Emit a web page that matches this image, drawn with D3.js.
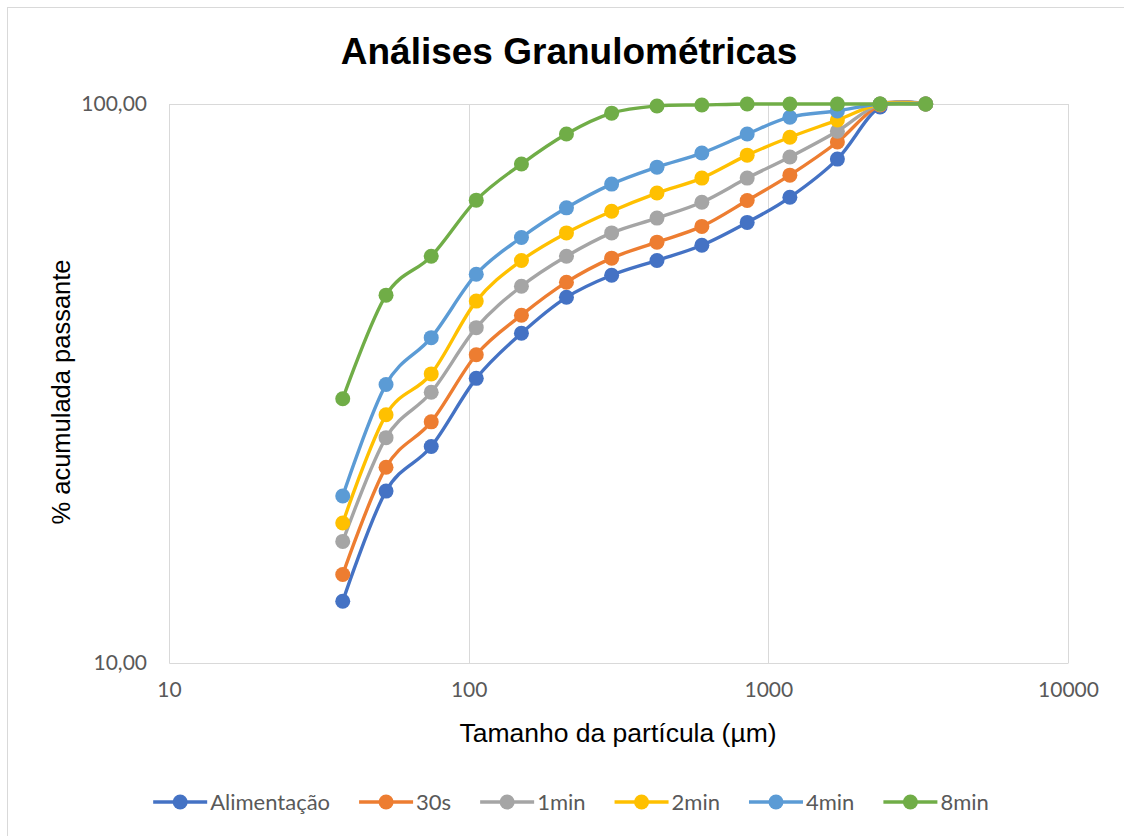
<!DOCTYPE html>
<html>
<head>
<meta charset="utf-8">
<script src="https://cdn.jsdelivr.net/npm/d3@7"></script>
<style>
  body { margin: 0; background: #fff; }
  .tick text { font-family: Lato, "Open Sans", sans-serif; font-size: 21px; fill: #595959; }
  .labels { font-family: "Liberation Sans", Arial, sans-serif; fill: #000; }
  .legend text { font-family: Lato, "Open Sans", sans-serif; font-size: 22px; fill: #595959; }
</style>
</head>
<body>
<div id="chart"></div>
<script>
// particle sizes (µm)
const sizes = [38, 53, 75, 106, 150, 212, 300, 425, 600, 850, 1180, 1700, 2360, 3350];

const seriesNames = ["Alimentação", "30s", "1min", "2min", "4min", "8min"];
const seriesColors = ["#4472C4", "#ED7D31", "#A5A5A5", "#FFC000", "#5B9BD5", "#70AD47"];

// % acumulada passante
const alimentacao = [12.9, 20.3, 24.4, 32.3, 38.9, 45.1, 49.4, 52.5, 55.9, 61.4, 68.1, 79.7, 98.8, 100];
const s30 = [14.4, 22.4, 27.0, 35.6, 41.9, 48.0, 53.0, 56.6, 60.4, 67.2, 74.6, 85.5, 99.6, 100];
const min1 = [16.5, 25.3, 30.5, 39.8, 47.2, 53.4, 58.8, 62.5, 66.7, 73.7, 80.4, 89.4, 100, 100];
const min2 = [17.8, 27.8, 32.9, 44.4, 52.5, 58.8, 64.3, 69.3, 73.7, 81.0, 87.2, 93.6, 100, 100];
const min4 = [19.9, 31.5, 38.2, 49.6, 57.7, 65.2, 71.9, 77.1, 81.7, 88.4, 94.7, 97.2, 100, 100];
const min8 = [29.7, 45.5, 53.4, 67.3, 78.1, 88.4, 96.3, 99.2, 99.6, 100, 100, 100, 100, 100];

const xTicks = [10, 100, 1000, 10000];
const yTicks = [10, 100];

function init() {
    const allSeries = [alimentacao, s30, min1, min2, min4, min8];
    const W = 1124, H = 836;
    const margin = {top: 104, right: 56, bottom: 173, left: 169};
    const width = W - margin.left - margin.right;
    const height = H - margin.top - margin.bottom;

    const root = d3.select('#chart').append('svg')
        .attr('width', W)
        .attr('height', H);

    // chart frame
    root.append('rect')
        .attr('x', 7.5).attr('y', 7.5)
        .attr('width', W).attr('height', H)
        .attr('fill', 'none')
        .attr('stroke', '#d9d9d9');

    const svg = root.append('g')
        .attr('transform', `translate(${margin.left},${margin.top})`);

    const xScale = d3.scaleLog().domain([10, 10000]).range([0, width]);
    const yScale = d3.scaleLog().domain([10, 100]).range([height, 0]);

    // gridlines
    svg.selectAll('.vgrid')
        .data(xTicks.slice(1))
        .join('line')
        .attr('x1', d => Math.round(xScale(d)) + 0.5)
        .attr('x2', d => Math.round(xScale(d)) + 0.5)
        .attr('y1', 0).attr('y2', height)
        .attr('stroke', '#d9d9d9');
    svg.selectAll('.hgrid')
        .data(yTicks.slice(1))
        .join('line')
        .attr('x1', 0).attr('x2', width)
        .attr('y1', d => Math.round(yScale(d)) + 0.5)
        .attr('y2', d => Math.round(yScale(d)) + 0.5)
        .attr('stroke', '#d9d9d9');

    // axes
    const fmtY = d => d3.format('.2f')(d).replace('.', ',');
    const xAxis = d3.axisBottom(xScale).tickValues(xTicks).tickFormat(d3.format('d')).tickSize(0).tickPadding(22);
    const yAxis = d3.axisLeft(yScale).tickValues(yTicks).tickFormat(fmtY).tickSize(0).tickPadding(22);

    const gx = svg.append('g')
        .attr('transform', `translate(0, ${height})`)
        .call(xAxis);
    const gy = svg.append('g').call(yAxis);
    [gx, gy].forEach(g => g.select('.domain').attr('stroke', '#d9d9d9'));
    gx.selectAll('text').attr('dy', '0.55em');

    // lines and markers
    const line = d3.line()
        .x((d, i) => xScale(sizes[i]))
        .y(d => yScale(d))
        .curve(d3.curveCatmullRom.alpha(0));

    allSeries.forEach((vals, k) => {
        svg.append('path')
            .datum(vals)
            .attr('d', line)
            .attr('fill', 'none')
            .attr('stroke', seriesColors[k])
            .attr('stroke-width', 3.4);
        svg.selectAll('.pt' + k)
            .data(vals)
            .join('circle')
            .attr('cx', (d, i) => xScale(sizes[i]))
            .attr('cy', d => yScale(d))
            .attr('r', 7.5)
            .attr('fill', seriesColors[k]);
    });

    // titles
    root.append('text')
        .attr('x', 569).attr('y', 64)
        .attr('text-anchor', 'middle')
        .attr('class', 'labels')
        .style('font-size', '37px')
        .style('font-weight', 'bold')
        .text('Análises Granulométricas');

    root.append('text')
        .attr('x', 618).attr('y', 742)
        .attr('text-anchor', 'middle')
        .attr('class', 'labels')
        .style('font-size', '26.5px')
        .text('Tamanho da partícula (µm)');

    root.append('text')
        .attr('transform', 'rotate(-90)')
        .attr('x', -392).attr('y', 70)
        .attr('text-anchor', 'middle')
        .attr('class', 'labels')
        .style('font-size', '25.5px')
        .text('% acumulada passante');

    // legend
    function addLegend() {
        const lg = root.append('g').attr('class', 'legend');
        const ly = 802;
        const segW = 54, gap = 3, spacing = 29;
        const items = seriesNames.map((name, i) => {
            const g = lg.append('g');
            g.append('line')
                .attr('x1', 0).attr('x2', segW)
                .attr('y1', ly).attr('y2', ly)
                .attr('stroke', seriesColors[i]).attr('stroke-width', 3.4);
            g.append('circle')
                .attr('cx', segW / 2).attr('cy', ly).attr('r', 7.5)
                .attr('fill', seriesColors[i]);
            const t = g.append('text')
                .attr('x', segW + gap).attr('y', ly)
                .attr('dy', '0.35em')
                .text(name);
            return {g: g, w: segW + gap + t.node().getComputedTextLength()};
        });
        const total = d3.sum(items, d => d.w) + spacing * (items.length - 1);
        let x = 571 - total / 2;
        items.forEach(it => {
            it.g.attr('transform', `translate(${x},0)`);
            x += it.w + spacing;
        });
    }
    addLegend();
}

window.addEventListener('load', init);
</script>
</body>
</html>
